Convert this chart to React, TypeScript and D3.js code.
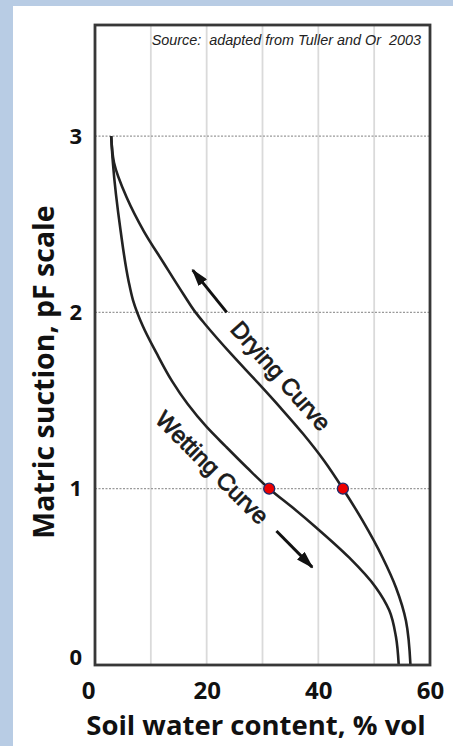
import React, { useRef, useEffect } from "react";
import * as d3 from "d3";

// soil water content (% vol) vs matric suction (pF)
const dryingWater = [2.9, 3.4, 5.7, 8.75, 12.3, 15.9, 18.0, 19.8, 24.5, 29.2, 33.2, 37.3, 41.0, 44.4, 47.9, 51.5, 53.9, 55.7, 56.5];
const dryingPF = [3.0, 2.85, 2.65, 2.46, 2.28, 2.1, 2.0, 1.93, 1.76, 1.6, 1.46, 1.31, 1.16, 1.0, 0.82, 0.61, 0.44, 0.25, 0];
const wettingWater = [2.9, 3.2, 4.6, 6.0, 6.8, 8.6, 11.0, 13.8, 16.6, 20.0, 23.4, 27.2, 31.2, 35.5, 39.6, 45.5, 50.3, 52.7, 53.9, 54.4];
const wettingPF = [3.0, 2.85, 2.46, 2.18, 2.07, 1.92, 1.77, 1.61, 1.48, 1.35, 1.24, 1.12, 1.0, 0.89, 0.78, 0.61, 0.44, 0.31, 0.16, 0];
const markerWater = [31.2, 44.4];
const markerPF = [1, 1];
const xTicks = [0, 20, 40, 60];
const xGrid = [10, 20, 30, 40, 50];
const yTicks = [0, 1, 2, 3];
const yGrid = [1, 2, 3];

const W = 453;
const H = 746;

const App = () => {
  const ref = useRef<SVGSVGElement>(null);

  useEffect(() => {
    const svg = d3.select(ref.current);
    svg.selectAll("*").remove();

    svg.append("rect").attr("width", W).attr("height", H).attr("fill", "#b8cce4");
    svg.append("rect").attr("x", 13).attr("y", 6).attr("width", W - 13).attr("height", H - 6).attr("fill", "#fff");

    const x = d3.scaleLinear().domain([0, 60]).range([95, 430]);
    const y = d3.scaleLinear().domain([0, 3.63]).range([665, 25]);

    // vertical grid
    svg
      .append("g")
      .selectAll("line")
      .data(xGrid)
      .join("line")
      .attr("x1", (d) => x(d))
      .attr("x2", (d) => x(d))
      .attr("y1", y(3.63))
      .attr("y2", y(0))
      .attr("stroke", "#dadada")
      .attr("stroke-width", 1.8);

    // horizontal grid (dotted)
    svg
      .append("g")
      .selectAll("line")
      .data(yGrid)
      .join("line")
      .attr("x1", x(0))
      .attr("x2", x(60))
      .attr("y1", (d) => y(d))
      .attr("y2", (d) => y(d))
      .attr("stroke", "#999")
      .attr("stroke-width", 1.3)
      .attr("stroke-dasharray", "2,1.5");

    // curves (drawn bottom-up so pF is increasing)
    const line = d3
      .line<[number, number]>()
      .x((d) => x(d[0]))
      .y((d) => y(d[1]))
      .curve(d3.curveMonotoneY);

    const drying = dryingWater.map((w, i) => [w, dryingPF[i]] as [number, number]).reverse();
    const wetting = wettingWater.map((w, i) => [w, wettingPF[i]] as [number, number]).reverse();

    [drying, wetting].forEach((pts) => {
      svg
        .append("path")
        .attr("d", line(pts))
        .attr("fill", "none")
        .attr("stroke", "#222")
        .attr("stroke-width", 2.6);
    });

    // frame
    svg
      .append("rect")
      .attr("x", x(0))
      .attr("y", y(3.63))
      .attr("width", x(60) - x(0))
      .attr("height", y(0) - y(3.63))
      .attr("fill", "none")
      .attr("stroke", "#383838")
      .attr("stroke-width", 2.8);

    // arrows
    const defs = svg.append("defs");
    defs
      .append("marker")
      .attr("id", "arrowhead")
      .attr("viewBox", "0 0 10 6")
      .attr("refX", 9)
      .attr("refY", 3)
      .attr("markerWidth", 6)
      .attr("markerHeight", 3.6)
      .attr("markerUnits", "strokeWidth")
      .attr("orient", "auto")
      .append("path")
      .attr("d", "M0,0 L10,3 L0,6 Z")
      .attr("fill", "#111");

    const arrows = [
      [23.6, 2.0, 17.5, 2.24],
      [32.5, 0.76, 38.9, 0.555],
    ];
    arrows.forEach(([x1, y1, x2, y2]) => {
      svg
        .append("line")
        .attr("x1", x(x1))
        .attr("y1", y(y1))
        .attr("x2", x(x2))
        .attr("y2", y(y2))
        .attr("stroke", "#111")
        .attr("stroke-width", 3)
        .attr("marker-end", "url(#arrowhead)");
    });

    // curve labels
    const labels = [
      { text: "Drying Curve", w: 33.3, pf: 1.64, angle: 48.5 },
      { text: "Wetting Curve", w: 21.0, pf: 1.12, angle: 45 },
    ];
    labels.forEach((l) => {
      svg
        .append("text")
        .attr("transform", `translate(${x(l.w)},${y(l.pf)}) rotate(${l.angle})`)
        .attr("text-anchor", "middle")
        .attr("dy", "0.35em")
        .attr("font-family", "Liberation Sans, Arial, sans-serif")
        .attr("font-size", "23.5px")
        .attr("fill", "#1a1a1a")
        .attr("stroke", "#1a1a1a")
        .attr("stroke-width", 0.8)
        .text(l.text);
    });

    // points at pF 1
    svg
      .append("g")
      .selectAll("circle")
      .data(markerWater)
      .join("circle")
      .attr("cx", (d) => x(d))
      .attr("cy", (d, i) => y(markerPF[i]))
      .attr("r", 5.5)
      .attr("fill", "#ee0000")
      .attr("stroke", "#1f2a6b")
      .attr("stroke-width", 1.3);

    // source note
    svg
      .append("text")
      .attr("x", 421)
      .attr("y", 45)
      .attr("text-anchor", "end")
      .attr("font-family", "Liberation Sans, Arial, sans-serif")
      .attr("font-style", "italic")
      .attr("font-size", "14.4px")
      .attr("fill", "#222")
      .attr("xml:space", "preserve")
      .text("Source:  adapted from Tuller and Or  2003");

    // axes
    const font = "'Open Sans', 'Noto Sans', sans-serif";
    const xAxis = svg
      .append("g")
      .attr("transform", `translate(0,${y(0)})`)
      .call(d3.axisBottom(x).tickValues(xTicks).tickSize(0).tickPadding(17).tickFormat(d3.format("d")));
    xAxis.select(".domain").remove();
    xAxis
      .selectAll("text")
      .attr("font-family", font)
      .attr("font-weight", 700)
      .attr("font-size", "24px")
      .attr("fill", "#111")
      .attr("dx", (d) => (d === 0 ? -7 : 0));

    const yAxis = svg
      .append("g")
      .attr("transform", `translate(${x(0)},0)`)
      .call(d3.axisLeft(y).tickValues(yTicks).tickSize(0).tickPadding(13).tickFormat(d3.format("d")));
    yAxis.select(".domain").remove();
    yAxis
      .selectAll("text")
      .attr("font-family", font)
      .attr("font-weight", 700)
      .attr("font-size", "22px")
      .attr("fill", "#111")
      .attr("y", (d) => (d === 0 ? -8 : 0));

    svg
      .append("text")
      .attr("x", 256)
      .attr("y", 735)
      .attr("text-anchor", "middle")
      .attr("font-family", font)
      .attr("font-weight", 700)
      .attr("font-size", "27.5px")
      .attr("fill", "#111")
      .text("Soil water content, % vol");

    svg
      .append("text")
      .attr("transform", `translate(54,372) rotate(-90)`)
      .attr("text-anchor", "middle")
      .attr("font-family", font)
      .attr("font-weight", 700)
      .attr("font-size", "28.5px")
      .attr("fill", "#111")
      .text("Matric suction, pF scale");

    return () => {
      d3.select(ref.current).selectAll("*").remove();
    };
  }, []);

  return (
    <div>
      <style>{`body{margin:0}`}</style>
      <svg ref={ref} width={W} height={H} style={{ display: "block" }}></svg>
    </div>
  );
};

export default App;
